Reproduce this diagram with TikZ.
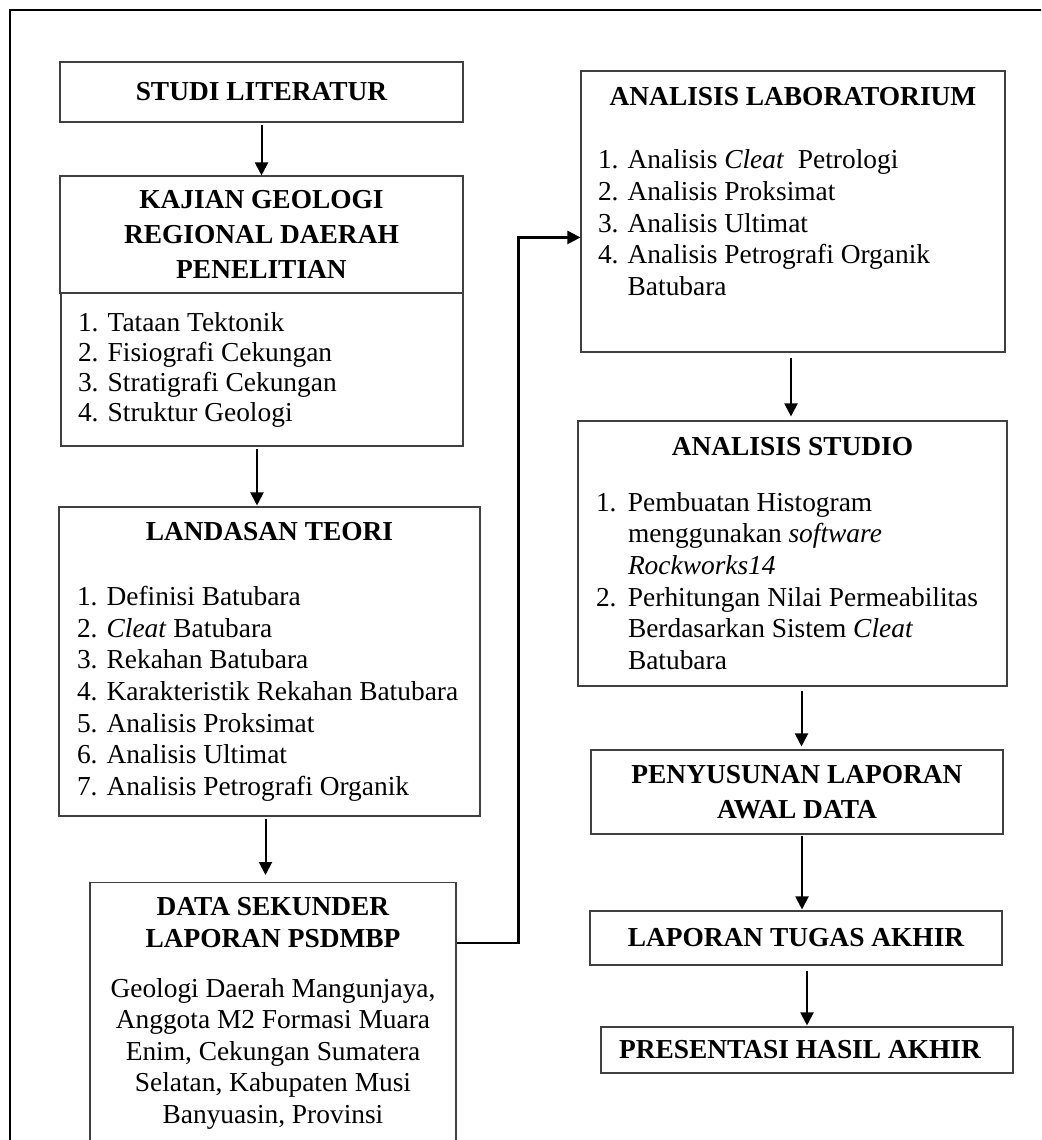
\documentclass[tikz,border=0pt]{standalone}
\usepackage{fontspec}
\setmainfont{Liberation Serif}
\usetikzlibrary{positioning,arrows.meta,calc}
\newlength{\lw}
\newcommand{\li}[1]{\makebox[\lw][l]{#1}}
\newcommand{\lnum}[1]{\makebox[32pt][l]{#1}}
\tikzset{
  blk/.style={draw=black!75, line width=1.1pt, align=center, inner sep=0pt},
  ttl/.style={blk, font=\fontsize{27.4}{31.6}\selectfont\bfseries},
  flow/.style={-{Triangle[length=13pt,width=13pt]}, line width=2pt},
  link/.style={flow, line width=2.4pt},
  frame/.style={line width=2.4pt},
  listw/.code={\setlength{\lw}{#1}},
}
\begin{document}
\begin{tikzpicture}[x=1pt, y=-1pt, font=\fontsize{27.4}{31.6}\selectfont]
\useasboundingbox (0,0) rectangle (1041,1140);
\clip (0,0) rectangle (1041,1140);
\draw[frame] (10,1160) -- (10,10) -- (1060,10);

%% left column
\node[ttl, minimum width=403pt, minimum height=60pt] (lit) at (261.5,92)
  {STUDI LITERATUR};
\node[ttl, minimum width=403pt, minimum height=117pt] (kaj) at (261.5,234.5)
  {KAJIAN GEOLOGI\\[3.4pt] REGIONAL DAERAH\\[3.4pt] PENELITIAN};
\node[blk, minimum width=402pt, minimum height=153pt, listw=368pt] (kajlist) at (262,369.5)
  {\li{1. Tataan Tektonik}\\[-1.6pt] \li{2. Fisiografi Cekungan}\\[-1.6pt]
   \li{3. Stratigrafi Cekungan}\\[-1.6pt] \li{4. Struktur Geologi}};
\node[blk, minimum width=421pt, minimum height=309pt, listw=385pt] (teori) at (269.5,661.5)
  {\textbf{LANDASAN TEORI}\\[34pt]
   \li{1. Definisi Batubara}\\ \li{2. \textit{Cleat} Batubara}\\
   \li{3. Rekahan Batubara}\\ \li{4. Karakteristik Rekahan Batubara}\\
   \li{5. Analisis Proksimat}\\ \li{6. Analisis Ultimat}\\
   \li{7. Analisis Petrografi Organik}};
\node[blk, anchor=north, minimum width=366pt, minimum height=262pt] (data) at (273,882)
  {\textbf{DATA SEKUNDER}\\ \textbf{LAPORAN PSDMBP}\\[18pt]
   Geologi Daerah Mangunjaya,\\ Anggota M2 Formasi Muara\\
   Enim, Cekungan Sumatera\\ Selatan, Kabupaten Musi\\ Banyuasin, Provinsi};

%% right column
\node[blk, minimum width=424pt, minimum height=281pt, listw=390pt] (lab) at (793,211.5)
  {\textbf{ANALISIS LABORATORIUM}\\[32pt]
   \li{1. Analisis \textit{Cleat}~ Petrologi}\\ \li{2. Analisis Proksimat}\\
   \li{3. Analisis Ultimat}\\ \li{4. Analisis Petrografi Organik}\\
   \li{\phantom{4. }Batubara}\\[9pt] \mbox{}};
\node[blk, minimum width=429pt, minimum height=265pt, listw=393pt] (studio) at (792.5,553.5)
  {\textbf{ANALISIS STUDIO}\\[24pt]
   \li{\lnum{1.}Pembuatan Histogram}\\ \li{\lnum{}menggunakan \textit{software}}\\
   \li{\lnum{}\textit{Rockworks14}}\\ \li{\lnum{2.}Perhitungan Nilai Permeabilitas}\\
   \li{\lnum{}Berdasarkan Sistem \textit{Cleat}}\\ \li{\lnum{}Batubara}};
\node[ttl, minimum width=412pt, minimum height=84pt] (susun) at (797,792)
  {PENYUSUNAN LAPORAN\\[3.4pt] AWAL DATA};
\node[ttl, minimum width=412pt, minimum height=54pt] (tugas) at (796,938)
  {LAPORAN TUGAS AKHIR};
\node[ttl, minimum width=412pt, minimum height=46pt] (hasil) at (807,1050)
  {PRESENTASI HASIL AKHIR\hspace*{14pt}};

%% connectors
\draw[flow, shorten <=2pt] (lit) -- (kaj);
\draw[flow, shorten <=2pt, shorten >=1pt] ([xshift=-5pt]kajlist.south)
  -- ([xshift=-5pt]kajlist.south |- teori.north);
\draw[flow, shorten <=2pt, shorten >=7pt] ([xshift=-4pt]teori.south)
  -- ([xshift=-4pt]teori.south |- data.north);
\coordinate (dout) at ($(data.north east)+(0,61)$);
\coordinate (labin) at ($(lab.north west)+(0,167)$);
\draw[link] (dout) -- ++(62,0) |- (labin);
\draw[flow, shorten <=5pt, shorten >=4pt] ([xshift=-2pt]lab.south)
  -- ([xshift=-2pt]lab.south |- studio.north);
\draw[flow, shorten <=4pt, shorten >=3pt] ([xshift=9pt]studio.south)
  -- ([xshift=9pt]studio.south |- susun.north);
\draw[flow, shorten <=1pt, shorten >=1pt] ([xshift=5pt]susun.south)
  -- ([xshift=5pt]susun.south |- tugas.north);
\draw[flow, shorten <=5pt, shorten >=1pt] (tugas.south -| hasil.north) -- (hasil.north);

\end{tikzpicture}
\end{document}
